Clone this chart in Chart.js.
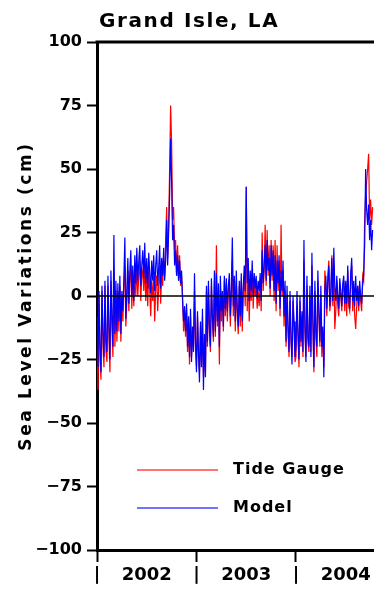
<!DOCTYPE html>
<html>
<head>
<meta charset="utf-8">
<script src="https://cdn.jsdelivr.net/npm/chart.js@4.4.0/dist/chart.umd.min.js"></script>
<style>
  html, body { margin: 0; padding: 0; background: #fff; overflow: hidden; }
  canvas { display: block; }
</style>
</head>
<body>
<canvas id="c" width="374" height="590"></canvas>
<script>
// ---- data ----
const startYear = 2002;
const stepYears = 0.01;
const modelValues = [
  -8,-28,2,-20,-30,4,-15,-24,6,-18,
  -22,8,-12,-25,10,-8,-20,24,-15,6,
  -14,5,-10,8,-15,2,-6,7,23,-9,
  2,15,-3,10,18,0,12,-2,16,5,
  19,6,14,20,4,12,18,7,21,5,
  15,3,17,9,1,14,6,16,2,12,
  18,4,11,20,3,15,8,19,6,14,
  30,12,25,40,62,45,22,28,12,18,
  8,16,6,14,5,10,-2,-10,-4,-14,
  -3,-20,-8,-24,-5,-26,-12,-22,9,-18,
  -30,-6,-22,-34,-10,-28,-5,-37,-15,-32,
  4,-18,6,-12,-20,7,-8,-16,10,-14,
  9,-10,5,-20,8,-6,2,-12,8,-5,
  7,-6,4,9,-8,3,23,-4,8,-10,
  10,-5,-12,6,-8,9,-10,4,12,2,
  43,5,15,-2,10,2,14,0,9,3,
  8,-1,6,2,9,-2,18,5,12,20,
  6,22,10,15,3,20,8,18,2,16,
  -3,14,5,16,-5,10,2,14,-8,6,
  -18,4,-12,-22,2,-16,-27,0,-10,-24,
  -20,2,-14,-25,0,-18,-6,-22,22,-12,
  -26,8,-16,-20,4,-24,17,-10,-28,6,
  -14,-20,10,-6,-18,4,-20,-12,-32,2,
  8,-5,6,12,-4,2,15,-2,19,4,
  -2,8,0,-5,7,2,-4,5,8,-3,
  6,-3,12,0,-5,9,15,-2,6,-4,
  8,-2,4,-4,6,0,-3,5,8,20,
  50,34,28,36,22,30,18,26
];
const tideGaugeValues = [
  -12,-37,0,-25,-33,2,-20,-28,4,-22,
  -26,4,-16,-30,6,-12,-24,10,-20,2,
  -18,2,-14,4,-18,0,-10,4,12,-12,
  -2,10,-6,6,12,-5,8,-4,10,0,
  12,0,8,14,-2,8,10,2,12,-2,
  8,-4,10,2,-8,6,-2,8,-10,4,
  8,-6,4,12,-3,10,4,14,8,22,
  35,15,28,50,75,60,30,35,18,22,
  8,20,6,16,4,8,0,-14,-6,-16,
  -5,-22,-10,-27,-8,-24,-14,-20,2,-20,
  -28,-8,-24,-30,-12,-26,-8,-32,-18,-30,
  2,-20,4,-14,-22,4,-10,-18,6,-16,
  20,-12,2,-27,4,-10,0,-14,6,-8,
  5,-10,2,6,-12,0,14,-8,6,-14,
  6,-8,-15,4,-12,6,-14,2,8,-4,
  43,-6,10,-10,6,-2,10,-5,6,0,
  4,-5,2,-4,6,-6,25,2,10,28,
  4,26,8,20,0,22,6,20,-2,22,
  -6,20,2,14,-8,28,0,10,-12,2,
  -20,0,-14,-24,-2,-18,-24,-2,-12,-26,
  -24,-4,-16,-28,-2,-20,-8,-24,14,-14,
  -24,4,-18,-22,0,-22,12,-12,-30,2,
  -16,-24,6,-8,-20,0,-24,-14,-28,10,
  4,-8,8,14,-6,-2,16,-4,12,-13,
  -6,6,-4,-8,4,0,-6,2,6,-6,
  4,-8,10,-4,-6,6,12,-6,4,-8,
  -13,-4,4,-6,2,-2,-6,8,6,30,
  40,45,50,56,30,38,28,35
];
const yTickValues = [-100, -75, -50, -25, 0, 25, 50, 75, 100];
const yTickLabels = ['\u2212100', '\u221275', '\u221250', '\u221225', '0', '25', '50', '75', '100'];
const xTickValues = [2002, 2002.5, 2003, 2003.5, 2004, 2004.5];
const xTickLabels = ['|', '2002', '|', '2003', '|', '2004'];
const xMin = 2002, xMax = 2004.784;
const titleText = 'Grand Isle, LA';
const yTitleText = 'Sea Level Variations (cm)';
const legendLabels = ['Tide Gauge', 'Model'];
const seriesColors = { tide: '#ff0000', model: '#0000ff' };

// ---- build datasets ----
const toPoints = arr => arr.map((v, i) => ({ x: startYear + i * stepYears, y: v }));

const overlay = {
  id: 'overlay',
  afterDatasetsDraw(chart) {
    const { ctx, chartArea, scales } = chart;
    const y0 = scales.y.getPixelForValue(0);
    ctx.save();
    ctx.strokeStyle = '#000';
    ctx.lineWidth = 1.5;
    ctx.beginPath();
    ctx.moveTo(chartArea.left, y0);
    ctx.lineTo(chart.width, y0);
    ctx.stroke();
    ctx.restore();
  },
  afterDraw(chart) {
    const { ctx, chartArea } = chart;
    ctx.save();
    // top frame line
    ctx.strokeStyle = '#000';
    ctx.lineWidth = 3;
    ctx.beginPath();
    ctx.moveTo(chartArea.left - 1.5, chartArea.top);
    ctx.lineTo(chart.width, chartArea.top);
    ctx.stroke();
    // title
    ctx.fillStyle = '#000';
    ctx.font = 'bold 20px "DejaVu Sans"';
    ctx.letterSpacing = '1.6px';
    ctx.textAlign = 'left';
    ctx.textBaseline = 'alphabetic';
    ctx.fillText(titleText, 99, 27);
    // y title
    ctx.save();
    ctx.translate(27, 296);
    ctx.rotate(-Math.PI / 2);
    ctx.font = 'bold 17px "DejaVu Sans"';
    ctx.letterSpacing = '2.6px';
    ctx.textAlign = 'center';
    ctx.textBaseline = 'middle';
    ctx.fillText(yTitleText, 0, 0);
    ctx.restore();
    // legend
    const rows = [
      { label: legendLabels[0], color: 'rgba(255,0,0,0.55)', y: 470 },
      { label: legendLabels[1], color: 'rgba(0,0,255,0.55)', y: 508 }
    ];
    ctx.font = 'bold 16px "DejaVu Sans"';
    ctx.letterSpacing = '1px';
    ctx.textBaseline = 'middle';
    rows.forEach(r => {
      ctx.strokeStyle = r.color;
      ctx.lineWidth = 2;
      ctx.beginPath();
      ctx.moveTo(137, r.y);
      ctx.lineTo(218, r.y);
      ctx.stroke();
      ctx.fillStyle = '#000';
      ctx.fillText(r.label, 233, r.y);
    });
    ctx.restore();
  }
};

new Chart(document.getElementById('c'), {
  type: 'line',
  data: {
    datasets: [
      { label: legendLabels[1], data: toPoints(modelValues), borderColor: seriesColors.model,
        borderWidth: 1.2, pointRadius: 0, tension: 0, fill: false, order: 0 },
      { label: legendLabels[0], data: toPoints(tideGaugeValues), borderColor: seriesColors.tide,
        borderWidth: 1.2, pointRadius: 0, tension: 0, fill: false, order: 1 }
    ]
  },
  options: {
    responsive: false,
    animation: false,
    devicePixelRatio: 1,
    layout: { padding: { top: 42, left: 0, right: 0, bottom: 0 } },
    plugins: { legend: { display: false }, tooltip: { enabled: false }, title: { display: false } },
    scales: {
      x: {
        type: 'linear', min: xMin, max: xMax,
        afterBuildTicks: s => { s.ticks = xTickValues.map(v => ({ value: v })); },
        afterFit: s => { s.height = 40; },
        grid: {
          drawOnChartArea: false, tickLength: 12, tickWidth: 2,
          tickColor: c => (c.tick && Number.isInteger(c.tick.value)) ? '#000' : 'rgba(0,0,0,0)'
        },
        border: { display: true, width: 3, color: '#000' },
        ticks: {
          autoSkip: false, maxRotation: 0, padding: 3, color: '#000',
          font: { family: 'DejaVu Sans', size: 18, weight: 'bold' },
          callback: (v) => { const k = xTickValues.indexOf(v); return k >= 0 ? xTickLabels[k] : ''; }
        }
      },
      y: {
        type: 'linear', min: -100, max: 100,
        afterBuildTicks: s => { s.ticks = yTickValues.map(v => ({ value: v })); },
        afterFit: s => { s.width = 97; },
        grid: { drawOnChartArea: false, tickLength: 10, tickWidth: 2, tickColor: '#000' },
        border: { display: true, width: 3, color: '#000' },
        ticks: {
          padding: 5, color: '#000',
          font: { family: 'DejaVu Sans', size: 16, weight: 'bold' },
          callback: (v) => { const k = yTickValues.indexOf(v); return k >= 0 ? yTickLabels[k] : ''; }
        }
      }
    }
  },
  plugins: [overlay]
});
</script>
</body>
</html>
